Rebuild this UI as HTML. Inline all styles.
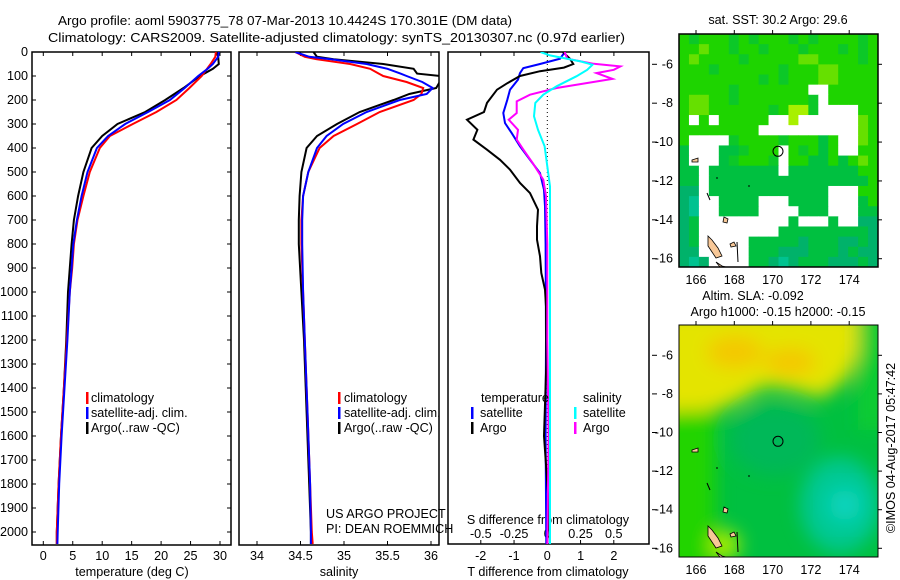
<!DOCTYPE html>
<html><head><meta charset="utf-8"><style>
body{margin:0;background:#fff;}
svg{display:block;font-family:"Liberation Sans",sans-serif;}
text{font-size:12.6px;fill:#000;}
</style></head><body>
<svg id="s" width="900" height="580" viewBox="0 0 900 580" xmlns="http://www.w3.org/2000/svg">
<defs>
<clipPath id="c1"><rect x="32" y="52" width="199" height="493"/></clipPath>
<clipPath id="c2"><rect x="239" y="52" width="200" height="493"/></clipPath>
<clipPath id="c3"><rect x="448" y="52" width="201" height="492"/></clipPath>
<clipPath id="cm2"><rect x="679" y="325" width="199" height="232"/></clipPath>
<filter id="bl" x="-20%" y="-20%" width="140%" height="140%"><feGaussianBlur stdDeviation="9"/></filter>
<filter id="bl2" x="-50%" y="-50%" width="200%" height="200%"><feGaussianBlur stdDeviation="12"/></filter>
</defs>
<text x="58" y="25" textLength="454" lengthAdjust="spacingAndGlyphs" style="font-size:13px">Argo profile: aoml 5903775_78 07-Mar-2013 10.4424S 170.301E (DM data)</text>
<text x="48" y="42" textLength="577" lengthAdjust="spacingAndGlyphs" style="font-size:13px">Climatology: CARS2009. Satellite-adjusted climatology: synTS_20130307.nc (0.97d earlier)</text>
<g id="p1"></g>
<g id="p2"></g>
<g id="p3"></g>
<g id="m1"></g>
<g id="m2">
<g clip-path="url(#cm2)">
<rect x="679" y="325" width="199" height="232" fill="#00c040"/>
<g filter="url(#bl)">
<rect x="660" y="400" width="55" height="170" fill="#22d400"/>
<polygon points="660,310 858,310 864,340 848,378 822,398 792,390 765,386 745,398 720,410 660,412" fill="#e4e400"/>
<ellipse cx="735" cy="352" rx="28" ry="16" fill="#f4c800"/>
<ellipse cx="790" cy="362" rx="26" ry="14" fill="#f4c800"/>
<rect x="858" y="310" width="30" height="120" fill="#10cc30"/>
<ellipse cx="775" cy="440" rx="45" ry="35" fill="#00b858"/>
<ellipse cx="840" cy="505" rx="40" ry="48" fill="#00c890"/>
<ellipse cx="725" cy="545" rx="15" ry="15" fill="#aaee00"/>
</g>
<ellipse cx="845" cy="505" rx="16" ry="16" fill="#10d8d0" filter="url(#bl2)"/>
</g>
<rect x="679" y="325" width="199" height="232" fill="none" stroke="#000" stroke-width="1"/>
</g>
<text x="753" y="300" text-anchor="middle">Altim. SLA: -0.092</text>
<text x="778" y="316" text-anchor="middle">Argo h1000: -0.15 h2000: -0.15</text>
<text x="778" y="24" text-anchor="middle">sat. SST: 30.2 Argo: 29.6</text>
<text transform="translate(895,448) rotate(-90)" text-anchor="middle">©IMOS 04-Aug-2017 05:47:42</text>
</svg>
<script>
// ===== data =====
const tDepth=[0,20,50,70,100,150,200,250,300,350,400,500,600,700,800,900,1000,1200,1400,1600,1800,2000,2050];
const tClim=[29.3,29.2,28.4,27.8,26.9,24.8,22.6,19.2,15.2,11.3,9.6,7.9,6.8,5.8,5.2,4.9,4.5,4.0,3.5,3.0,2.6,2.3,2.3];
const tSat=[29.8,29.7,28.8,27.9,26.3,24.0,21.5,17.8,13.9,11.0,9.1,7.5,6.5,5.7,5.1,4.8,4.5,4.1,3.6,3.1,2.7,2.45,2.4];
const tArgo=[29.4,29.7,29.8,28.8,26.6,23.8,20.7,17.3,12.6,10.0,8.2,6.8,5.9,5.2,4.8,4.5,4.2,3.9,3.5,3.0,2.6,2.3,2.3];
const sDepth=[0,20,30,50,70,90,100,125,150,175,200,250,300,350,400,500,600,700,800,1000,1200,1500,1800,2000,2050];
const sClim=[34.44,34.55,34.68,35.07,35.3,35.4,35.45,35.72,35.91,35.89,35.8,35.41,35.15,34.88,34.72,34.59,34.53,34.51,34.51,34.53,34.55,34.58,34.61,34.63,34.64];
const sSat=[34.44,34.6,34.85,35.26,35.5,35.65,35.72,35.9,36.02,35.95,35.64,35.26,34.99,34.8,34.69,34.59,34.53,34.52,34.52,34.53,34.55,34.58,34.61,34.62,34.62];
const sArgo=[34.65,34.69,34.88,35.45,35.8,35.84,36.1,36.1,36.06,35.75,35.57,35.18,34.92,34.69,34.57,34.51,34.49,34.48,34.48,34.51,34.54,34.57,34.6,34.62,34.62];
const dtArgoDepth=[0,28,50,65,80,100,130,157,212,250,282,324,365,407,449,490,546,588,657,726,782,851,921,990,1060,1300,1600,1900,2050];
const dtArgo=[0.47,0.68,0.78,0.5,-0.22,-0.82,-1.2,-1.51,-1.81,-1.9,-2.41,-2.1,-2.22,-1.81,-1.42,-1.12,-0.82,-0.52,-0.28,-0.31,-0.31,-0.22,-0.18,-0.07,-0.04,-0.03,-0.1,0.05,0];
const dtSatDepth=[0,28,50,67,88,115,157,199,254,296,338,393,449,504,574,643,800,1200,1600,2050];
const dtSat=[0.53,0.38,-0.22,-0.72,-0.82,-0.88,-1.12,-1.2,-1.32,-1.27,-1.07,-0.82,-0.52,-0.22,-0.1,-0.07,-0.05,-0.04,-0.05,-0.03];
const dsArgoDepth=[0,28,49,60,74,88,112,129,150,178,206,254,282,324,365,407,463,532,601,800,1200,1600,2050];
const dsArgo=[0.13,0.15,0.35,0.55,0.5,0.37,0.49,0.30,0.07,-0.13,-0.23,-0.23,-0.29,-0.22,-0.23,-0.18,-0.11,-0.03,-0.01,0,0,0.01,0];
const dsSatDepth=[0,14,39,53,74,101,143,178,212,268,324,393,476,560,800,1200,1600,2050];
const dsSat=[-0.05,0.02,0.25,0.34,0.30,0.22,0.07,-0.03,-0.09,-0.10,-0.07,-0.02,0,0.02,0.02,0.02,0.02,0.02];
const depthTicks=[0,100,200,300,400,500,600,700,800,900,1000,1100,1200,1300,1400,1500,1600,1700,1800,1900,2000];
const tTicks=[0,5,10,15,20,25,30];
const sTicks=[34,34.5,35,35.5,36];
const dtTicks=[-2,-1,0,1,2];
const dsTicks=[-0.5,-0.25,0,0.25,0.5];
const dsTickLabels=["-0.5","-0.25","0","0.25","0.5"];
const lonTicks=[166,168,170,172,174];
const latTicks=[-6,-8,-10,-12,-14,-16];
const sstGrid=[
"gGgggGgGgggGgGggggGg",
"ggyggGggGgggGgggGgGg",
"gyggggGgggggyyggggGg",
"gggGggggggGgggyygggg",
"ggggggggGgGgggyygggg",
"gggggGgggggggwwggggg",
"gyyggGgggggggGwggggg",
"gyyggggggGgYYGwwwwgg",
"gwgwgggggwwYwwwwwwyg",
"ggggggggwwwwwwwwwwyg",
"gwwwwGggggGgggdgwwyg",
"dwwwddGgggwgGgdgwwgg",
"dwwwdGgggGwggddgdgyg",
"ddwdddddddwdddddddgg",
"ddwddddddddddddddddg",
"ttwddddddddddddwwwgg",
"tTwwddddwwwddddwwwdg",
"tTwwddddwwwwdddwwwdd",
"tdwwwwwwwwwdwwwdwwtt",
"tdwwwwwwwwdddddddddt",
"tdwwwwwdddddtdddttdt",
"ttwwwwwdddtttdddtdtt",
"tTtwwwwddtTtdddtttdt"];
const sstColors={g:"#1ed400",G:"#0cc828",y:"#66e000",Y:"#a8f000",d:"#00c040",t:"#00b26a",T:"#00c290",w:"#ffffff"};

// ===== helpers =====
const NS="http://www.w3.org/2000/svg";
function mk(tag,attrs,parent){const e=document.createElementNS(NS,tag);for(const k in attrs)e.setAttribute(k,attrs[k]);parent.appendChild(e);return e;}
const yD=d=>52+0.24*d;
const xT=v=>43.3+5.89*v;
const xS=v=>257+87*(v-34);
const xDT=v=>547.3+33.3*v;
const xDS=v=>547.3+133*v;

function line(g,depths,vals,xf,color,name,clip){
  const pts=depths.map((d,i)=>xf(vals[i]).toFixed(1)+","+yD(d).toFixed(1)).join(" ");
  const p=mk("polyline",{points:pts,fill:"none",stroke:color,"stroke-width":"2","clip-path":"url(#"+clip+")"},g);
  
  
}
function frame(g,x,y,w,h,name){
  const r=mk("rect",{x:x,y:y,width:w,height:h,fill:"none",stroke:"#000","stroke-width":"1.5"},g);
  
  
}
function txt(g,x,y,s,anchor,name){
  const t=mk("text",{x:x,y:y,"text-anchor":anchor||"start"},g);t.textContent=s;
  
  
  return t;
}
function legbar(g,x,y,color,name){
  const r=mk("rect",{x:x,y:y-10,width:2.5,height:12,fill:color},g);
  
  
}

// ===== panel 1 =====
const p1=document.getElementById('p1');
frame(p1,32,52,199,493,'temperature-frame');
depthTicks.forEach(d=>{
  mk("line",{x1:32,x2:36,y1:yD(d),y2:yD(d),stroke:"#000"},p1);
  mk("line",{x1:227,x2:231,y1:yD(d),y2:yD(d),stroke:"#000"},p1);
  txt(p1,28,yD(d)+4,String(d),"end",'depth-tick-label');
});
tTicks.forEach(v=>{
  mk("line",{x1:xT(v),x2:xT(v),y1:52,y2:56,stroke:"#000"},p1);
  mk("line",{x1:xT(v),x2:xT(v),y1:541,y2:545,stroke:"#000"},p1);
  txt(p1,xT(v),560,String(v),"middle",'temperature-tick-label');
});
txt(p1,132,576,"temperature (deg C)","middle",'temperature-axis-title');
line(p1,tDepth,tArgo,xT,"#000",'temperature-argo-line','c1');
line(p1,tDepth,tClim,xT,"#f00",'temperature-climatology-line','c1');
line(p1,tDepth,tSat,xT,"#00f",'temperature-satellite-line','c1');
[["#f00","climatology"],["#00f","satellite-adj. clim."],["#000","Argo(..raw -QC)"]].forEach((l,i)=>{
  legbar(p1,86,402+i*15,l[0],'temperature-legend-swatch');
  txt(p1,91,402+i*15,l[1],"start",'temperature-legend-entry');
});

// ===== panel 2 =====
const p2=document.getElementById('p2');
frame(p2,239,52,200,493,'salinity-frame');
sTicks.forEach(v=>{
  mk("line",{x1:xS(v),x2:xS(v),y1:52,y2:56,stroke:"#000"},p2);
  mk("line",{x1:xS(v),x2:xS(v),y1:541,y2:545,stroke:"#000"},p2);
  txt(p2,xS(v),560,String(v),"middle",'salinity-tick-label');
});
txt(p2,339,576,"salinity","middle",'salinity-axis-title');
line(p2,sDepth,sArgo,xS,"#000",'salinity-argo-line','c2');
line(p2,sDepth,sClim,xS,"#f00",'salinity-climatology-line','c2');
line(p2,sDepth,sSat,xS,"#00f",'salinity-satellite-line','c2');
[["#f00","climatology"],["#00f","satellite-adj. clim."],["#000","Argo(..raw -QC)"]].forEach((l,i)=>{
  legbar(p2,338,402+i*15,l[0],'salinity-legend-swatch');
  txt(p2,344,402+i*15,l[1],"start",'salinity-legend-entry');
});
txt(p2,326,518,"US ARGO PROJECT","start",'project-credit');
txt(p2,326,533,"PI: DEAN ROEMMICH","start",'pi-credit');

// ===== panel 3 =====
const p3=document.getElementById('p3');
frame(p3,448,52,201,492,'difference-frame');
mk("line",{x1:547.3,x2:547.3,y1:52,y2:544,stroke:"#000","stroke-dasharray":"1,3"},p3);
dtTicks.forEach(v=>{
  mk("line",{x1:xDT(v),x2:xDT(v),y1:52,y2:56,stroke:"#000"},p3);
  txt(p3,xDT(v),560,String(v),"middle",'t-difference-tick-label');
});
dsTicks.forEach((v,i)=>{
  mk("line",{x1:xDS(v),x2:xDS(v),y1:540,y2:544,stroke:"#000"},p3);
  txt(p3,xDS(v),538,dsTickLabels[i],"middle",'s-difference-tick-label');
});
txt(p3,548,576,"T difference from climatology","middle",'t-difference-axis-title');
txt(p3,548,524,"S difference from climatology","middle",'s-difference-axis-title');
line(p3,dtSatDepth,dtSat,xDT,"#00f",'t-satellite-diff-line','c3');
line(p3,dtArgoDepth,dtArgo,xDT,"#000",'t-argo-diff-line','c3');
line(p3,dsArgoDepth,dsArgo,xDS,"#f0f",'s-argo-diff-line','c3');
line(p3,dsSatDepth,dsSat,xDS,"#0ff",'s-satellite-diff-line','c3');
txt(p3,481,402,"temperature","start",'legend-temperature-header');
txt(p3,583,402,"salinity","start",'legend-salinity-header');
legbar(p3,471,417,"#00f",'legend-t-satellite-swatch');
txt(p3,480,417,"satellite","start",'legend-t-satellite');
legbar(p3,471,432,"#000",'legend-t-argo-swatch');
txt(p3,480,432,"Argo","start",'legend-t-argo');
legbar(p3,574,417,"#0ff",'legend-s-satellite-swatch');
txt(p3,583,417,"satellite","start",'legend-s-satellite');
legbar(p3,574,432,"#f0f",'legend-s-argo-swatch');
txt(p3,583,432,"Argo","start",'legend-s-argo');

// ===== maps =====
const xLon=l=>696+19.15*(l-166);
const yLat1=l=>64.3+19.44*(-6-l);
const yLat2=l=>355.3+19.3*(-6-l);
const m1=document.getElementById('m1');
const cw=199/20, ch=233/23;
sstGrid.forEach((row,r)=>{
  for(let c=0;c<row.length;c++){
    const cell=mk("rect",{x:(679+c*cw).toFixed(2),y:(34+r*ch).toFixed(2),width:(cw+0.5).toFixed(2),height:(ch+0.5).toFixed(2),fill:sstColors[row[c]]},m1);
    
    
  }
});
function islands(g,dy){
  const shapes=["708,236 712,240 718,248 722,256 716,258 712,252 708,246","716,262 722,266 726,267 720,267","730,244 734,242 736,246 731,247","724,217 728,219 727,223 723,222","692,160 698,158 698,162 692,162"];
  shapes.forEach(s=>{
    const pts=s.split(" ").map(p=>{const a=p.split(",");return a[0]+","+(+a[1]+dy);}).join(" ");
    const pg=mk("polygon",{points:pts,fill:"#f8c898",stroke:"#000","stroke-width":"0.8"},g);
    
    
  });
  [[707,193,710,200],[716,178,718,178],[737,242,738,262],[748,186,750,186]].forEach(a=>{
    mk("line",{x1:a[0],y1:a[1]+dy,x2:a[2],y2:a[3]+dy,stroke:"#000","stroke-width":"1"},g);
  });
}
islands(m1,0);
frame(m1,679,34,199,233,'sst-map-frame');
const c1m=mk("circle",{cx:778,cy:151.3,r:5,fill:"none",stroke:"#000","stroke-width":"1"},m1);


const m2=document.getElementById('m2');
islands(m2,290);
const c2m=mk("circle",{cx:778,cy:441.3,r:5,fill:"none",stroke:"#000","stroke-width":"1"},m2);


[[m1,34,267,yLat1,284],[m2,325,557,yLat2,574]].forEach(([g,top,bot,yf,ly])=>{
  lonTicks.forEach(l=>{
    mk("line",{x1:xLon(l),x2:xLon(l),y1:top-4,y2:top,stroke:"#000"},g);
    txt(g,xLon(l),ly,String(l),"middle",'longitude-tick-label');
  });
  latTicks.forEach(l=>{
    mk("line",{x1:878,x2:882,y1:yf(l),y2:yf(l),stroke:"#000"},g);
    mk("line",{x1:652,x2:657,y1:yf(l),y2:yf(l),stroke:"#000"},g);
    txt(g,673,yf(l)+4,String(l),"end",'latitude-tick-label');
  });
});
</script>
</body></html>
